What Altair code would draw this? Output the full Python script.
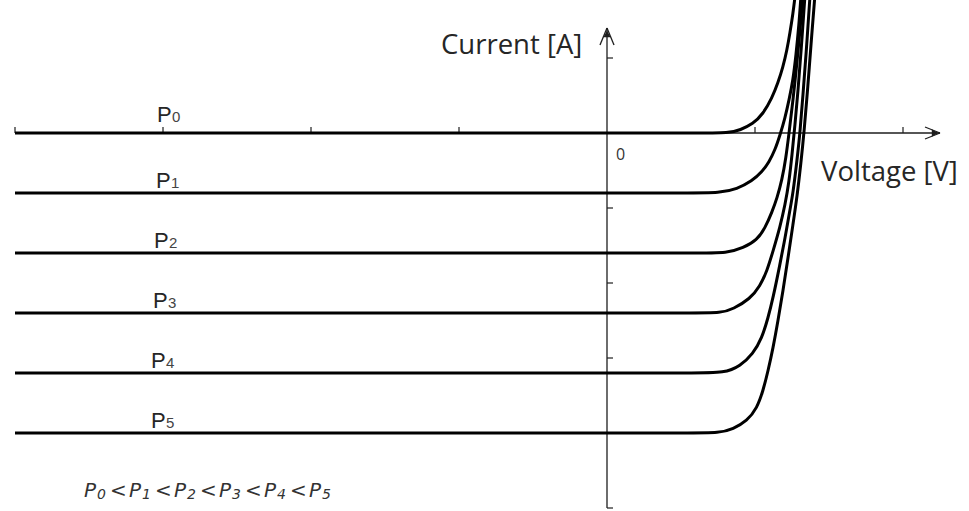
import altair as alt
import pandas as pd

# Photodiode I-V characteristics for increasing optical power P0..P5.
# Current levels in the reverse / low-bias region (photocurrent steps).
NAMES = ["P0", "P1", "P2", "P3", "P4", "P5"]
SUBS = ["0", "1", "2", "3", "4", "5"]
LEVELS = [0.0, -0.8, -1.6, -2.4, -3.2, -4.0]

# Voltage / current readings along each curve
P0_V = [-4.0, 0.0, 0.6, 0.831, 0.899, 0.986, 1.054, 1.115, 1.155, 1.189, 1.216, 1.236, 1.257, 1.270]
P0_I = [0.0, 0.0, 0.0, 0.0, 0.04, 0.12, 0.253, 0.467, 0.667, 0.88, 1.107, 1.333, 1.6, 1.813]

P1_V = [-4.0, 0.0, 0.55, 0.764, 0.878, 0.980, 1.047, 1.095, 1.135, 1.169, 1.203, 1.230, 1.257, 1.277, 1.297, 1.311]
P1_I = [-0.8, -0.8, -0.8, -0.8, -0.747, -0.64, -0.52, -0.387, -0.227, -0.027, 0.2, 0.44, 0.707, 1.04, 1.44, 1.84]

P2_V = [-4.0, 0.0, 0.6, 0.818, 0.919, 1.014, 1.068, 1.115, 1.149, 1.182, 1.209, 1.230, 1.257, 1.284, 1.304, 1.324]
P2_I = [-1.6, -1.6, -1.6, -1.6, -1.533, -1.427, -1.267, -1.053, -0.867, -0.627, -0.333, 0.0, 0.44, 0.947, 1.373, 1.84]

P3_V = [-4.0, 0.0, 0.57, 0.777, 0.851, 0.966, 1.034, 1.081, 1.122, 1.169, 1.203, 1.230, 1.250, 1.270, 1.291, 1.311, 1.338]
P3_I = [-2.4, -2.4, -2.4, -2.4, -2.347, -2.213, -2.04, -1.84, -1.573, -1.253, -0.96, -0.653, -0.293, 0.107, 0.573, 1.08, 1.84]

P4_V = [-4.0, 0.0, 0.58, 0.797, 0.899, 0.986, 1.047, 1.088, 1.122, 1.169, 1.203, 1.236, 1.257, 1.284, 1.304, 1.324, 1.345, 1.372]
P4_I = [-3.2, -3.2, -3.2, -3.2, -3.107, -2.947, -2.733, -2.467, -2.2, -1.747, -1.4, -1.027, -0.8, -0.36, 0.0, 0.507, 1.04, 1.84]

P5_V = [-4.0, 0.0, 0.55, 0.764, 0.851, 0.946, 1.014, 1.054, 1.088, 1.122, 1.155, 1.189, 1.223, 1.257, 1.284, 1.311, 1.331, 1.358, 1.378, 1.405]
P5_I = [-4.0, -4.0, -4.0, -4.0, -3.947, -3.84, -3.667, -3.44, -3.173, -2.867, -2.507, -2.107, -1.667, -1.213, -0.853, -0.387, 0.0, 0.64, 1.173, 1.84]

# Axis ticks
X_TICKS = [-4, -3, -2, -1, 1, 2]
Y_TICKS = [1, -1, -2, -3, -4, -5]

W, H = 969, 511
X0_PX, X_UNIT = 607, 148.0   # pixel of V=0, pixels per volt unit
Y0_PX, Y_UNIT = 133, 75.0    # pixel of I=0, pixels per current unit
X_DOM = [-X0_PX / X_UNIT, (W - X0_PX) / X_UNIT]
Y_DOM = [-(H - Y0_PX) / Y_UNIT, Y0_PX / Y_UNIT]


def px_x(px):
    return (px - X0_PX) / X_UNIT


def px_y(py):
    return (Y0_PX - py) / Y_UNIT


xs = alt.Scale(domain=X_DOM, nice=False, zero=False)
ys = alt.Scale(domain=Y_DOM, nice=False, zero=False)

series = [P0_V, P1_V, P2_V, P3_V, P4_V, P5_V]
currents = [P0_I, P1_I, P2_I, P3_I, P4_I, P5_I]
rows = []
for name, vv, ii in zip(NAMES, series, currents):
    for k, (v, i) in enumerate(zip(vv, ii)):
        rows.append({"series": name, "V": v, "I": i, "order": k})
curves_df = pd.DataFrame(rows)

AXIS_COLOR = "#1e1e1e"
TEXT_COLOR = "#262626"

# Axes lines
x_end = px_x(940)
y_top = px_y(28)
y_bot = -5.0
axis_df = pd.DataFrame([
    {"x": -4.0, "x2": x_end, "y": 0.0, "y2": 0.0},
    {"x": 0.0, "x2": 0.0, "y": y_bot, "y2": y_top},
])
axes = alt.Chart(axis_df).mark_rule(color=AXIS_COLOR, strokeWidth=1.3).encode(
    x=alt.X("x:Q", scale=xs, axis=None), x2="x2:Q",
    y=alt.Y("y:Q", scale=ys, axis=None), y2="y2:Q",
)

tick_h = 6 / Y_UNIT
tick_w = 6 / X_UNIT
xt_df = pd.DataFrame({"x": X_TICKS})
xt_df["y"] = 0.0
xt_df["y2"] = tick_h
xticks = alt.Chart(xt_df).mark_rule(color=AXIS_COLOR, strokeWidth=1.2).encode(
    x=alt.X("x:Q", scale=xs), y=alt.Y("y:Q", scale=ys), y2="y2:Q"
)
yt_df = pd.DataFrame({"y": Y_TICKS})
yt_df["x"] = 0.0
yt_df["x2"] = tick_w
yticks = alt.Chart(yt_df).mark_rule(color=AXIS_COLOR, strokeWidth=1.2).encode(
    x=alt.X("x:Q", scale=xs), x2="x2:Q", y=alt.Y("y:Q", scale=ys)
)

# Arrow heads
wing_dx = 15 / X_UNIT
wing_dy = 6 / Y_UNIT
ywing_dx = 7 / X_UNIT
ywing_dy = 17 / Y_UNIT
arrow_df = pd.DataFrame([
    {"x": x_end - wing_dx, "x2": x_end, "y": wing_dy, "y2": 0.0},
    {"x": x_end - wing_dx, "x2": x_end, "y": -wing_dy, "y2": 0.0},
    {"x": -ywing_dx, "x2": 0.0, "y": y_top - ywing_dy, "y2": y_top},
    {"x": ywing_dx, "x2": 0.0, "y": y_top - ywing_dy, "y2": y_top},
])
arrows = alt.Chart(arrow_df).mark_rule(color=AXIS_COLOR, strokeWidth=1.3).encode(
    x=alt.X("x:Q", scale=xs), x2="x2:Q", y=alt.Y("y:Q", scale=ys), y2="y2:Q"
)
heads_df = pd.DataFrame([
    {"x": x_end - 5 / X_UNIT, "y": 0.0, "a": 90},
    {"x": 0.0, "y": y_top - 6 / Y_UNIT, "a": 0},
])
heads = alt.Chart(heads_df).mark_point(
    shape="triangle-up", filled=True, color=AXIS_COLOR, size=55, opacity=1
).encode(
    x=alt.X("x:Q", scale=xs), y=alt.Y("y:Q", scale=ys),
    angle=alt.Angle("a:Q", scale=None),
)

# I-V curves
lines = alt.Chart(curves_df).mark_line(
    color="black", strokeWidth=3, interpolate="basis", clip=True,
    strokeCap="butt", strokeJoin="round"
).encode(
    x=alt.X("V:Q", scale=xs),
    y=alt.Y("I:Q", scale=ys),
    detail="series:N",
    order="order:Q",
)

# Curve labels: "P" with subscript index above each flat segment
lab_df = pd.DataFrame({"p": ["P"] * 6, "sub": SUBS, "level": LEVELS})
lab_df["ly"] = lab_df["level"] + [0.15, 0.067, 0.067, 0.067, 0.067, 0.067]
lab_df["lx"] = [px_x(157), px_x(156), px_x(154), px_x(153), px_x(151), px_x(151)]
lab_df["sx"] = lab_df["lx"] + 15 / X_UNIT
p_text = alt.Chart(lab_df).mark_text(
    font="Liberation Sans", fontSize=22, color=TEXT_COLOR, align="left", baseline="alphabetic"
).encode(x=alt.X("lx:Q", scale=xs), y=alt.Y("ly:Q", scale=ys), text="p:N")
s_text = alt.Chart(lab_df).mark_text(
    font="Liberation Sans", fontSize=15, color="#444444", align="left", baseline="alphabetic"
).encode(x=alt.X("sx:Q", scale=xs), y=alt.Y("ly:Q", scale=ys), text="sub:N")

# Inequality P0<P1<...<P5 with subscripts
glyphs = []
for k, s in enumerate(SUBS):
    base = 84 + 45 * k
    glyphs.append({"g": "P", "gx": px_x(base), "gy": px_y(497), "kind": "main"})
    glyphs.append({"g": s, "gx": px_x(base + 13), "gy": px_y(499), "kind": "sub"})
    if k < len(SUBS) - 1:
        glyphs.append({"g": "<", "gx": px_x(base + 26), "gy": px_y(497), "kind": "main"})
glyph_df = pd.DataFrame(glyphs)
ineq_main = alt.Chart(glyph_df).transform_filter(alt.datum.kind == "main").mark_text(
    font="DejaVu Sans", fontStyle="italic", fontSize=20, color="#333333",
    align="left", baseline="alphabetic"
).encode(x=alt.X("gx:Q", scale=xs), y=alt.Y("gy:Q", scale=ys), text="g:N")
ineq_sub = alt.Chart(glyph_df).transform_filter(alt.datum.kind == "sub").mark_text(
    font="DejaVu Sans", fontStyle="italic", fontSize=14, color="#333333",
    align="left", baseline="alphabetic"
).encode(x=alt.X("gx:Q", scale=xs), y=alt.Y("gy:Q", scale=ys), text="g:N")

# Axis titles and origin label
titles_df = pd.DataFrame([
    {"t": "Current [A]", "tx": px_x(441), "ty": px_y(54)},
    {"t": "Voltage [V]", "tx": px_x(821), "ty": px_y(181)},
])
titles = alt.Chart(titles_df).mark_text(
    font="Open Sans", fontSize=27.5, color=TEXT_COLOR, align="left", baseline="alphabetic"
).encode(x=alt.X("tx:Q", scale=xs), y=alt.Y("ty:Q", scale=ys), text="t:N")
origin = alt.Chart(pd.DataFrame({"t": ["0"], "tx": [px_x(616)], "ty": [px_y(160)]})).mark_text(
    font="Open Sans", fontSize=16, color="#333333", align="left", baseline="alphabetic"
).encode(x=alt.X("tx:Q", scale=xs), y=alt.Y("ty:Q", scale=ys), text="t:N")

chart = alt.layer(
    axes, xticks, yticks, arrows, heads, lines, p_text, s_text,
    ineq_main, ineq_sub, titles, origin
).properties(
    width=W, height=H, padding=0, autosize=alt.AutoSizeParams(type="none"),
    background="white"
).configure_view(stroke=None)

chart.save("out.html", embed_options={"renderer": "svg", "actions": False})
